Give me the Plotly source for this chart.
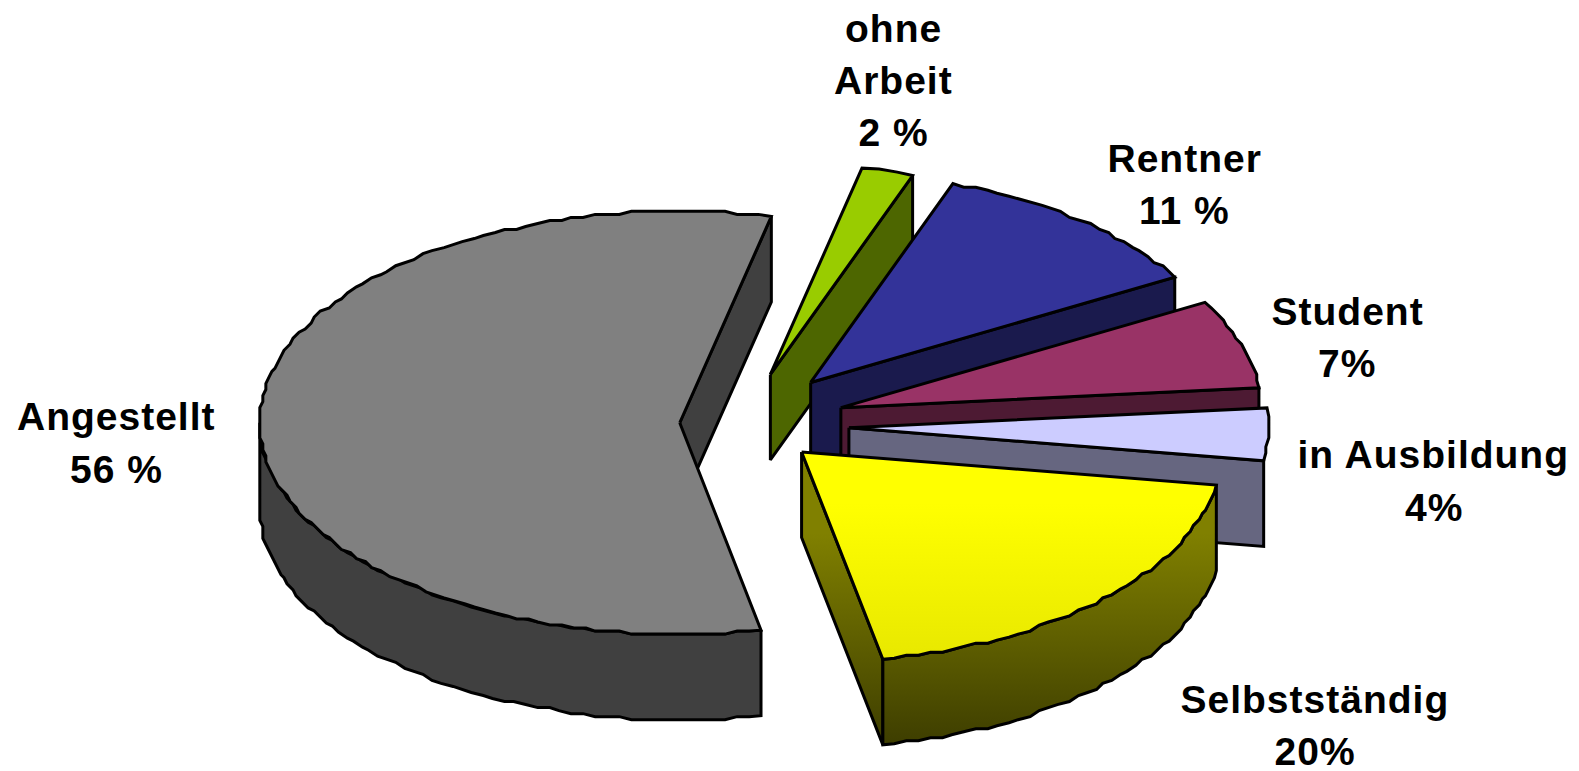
import numpy as np
import plotly.graph_objects as go

# slices in clockwise order, starting at the Selbstständig slice
categories = ["Selbstständig", "Angestellt", "ohne Arbeit", "Rentner", "Student", "in Ausbildung"]
values = [19.4, 56.6, 2, 11.2, 6.8, 4]

label_lines = [
    ["Selbstständig", "20%"],
    ["Angestellt", "56 %"],
    ["ohne", "Arbeit", "2 %"],
    ["Rentner", "11 %"],
    ["Student", "7%"],
    ["in Ausbildung", "4%"],
]
label_anchor = [(1306, 695), (116, 414), (887, 28), (1176, 157), (1338, 309), (1424, 452)]

top_colors = ["#FFFF00", "#808080", "#99CC00", "#333399", "#993366", "#CCCCFF"]
side_colors = ["#808000", "#404040", "#4D6600", "#1A1A4D", "#4D1A33", "#666680"]
rim_colors = ["#808000", "#404040", "#4D6600", "#1A1A4D", "#4D1A33", "#7F7FA0"]

# where the tip of each exploded slice ends up
apex = [(796, 449), (675, 420), (765, 372), (805, 380), (835, 405), (843, 425)]

draw_order = [1, 2, 3, 4, 5, 0]

W, H = 1568, 766
RX, RY = 417, 210
DEPTH = 85
START_ANGLE = 99
LINE = dict(color="black", width=3)


def rim(tip, deg):
    t = np.radians(deg)
    return tip[0] + RX * np.sin(t), tip[1] - RY * np.cos(t)


def arc(tip, a, b):
    # snapped to a coarse grid, the original outline is a stepped one
    angles = np.linspace(a, b, max(2, int((b - a) / 1.6)))
    xs, ys = rim(tip, angles)
    xs, ys = np.round(xs / 3) * 3, np.round(ys / 3) * 3
    xs[0], ys[0] = rim(tip, a)
    xs[-1], ys[-1] = rim(tip, b)
    return list(xs), list(ys)


def add_poly(fig, xs, ys, color, gradient=None):
    trace = go.Scatter(
        x=list(xs) + [xs[0]],
        y=list(ys) + [ys[0]],
        mode="lines",
        fill="toself",
        line=LINE,
        hoverinfo="skip",
        showlegend=False,
    )
    if gradient:
        trace.fillgradient = gradient
    else:
        trace.fillcolor = color
    fig.add_trace(trace)


def vertical(c0, c1, y0, y1):
    return dict(type="vertical", colorscale=[[0, c0], [1, c1]], start=y0, stop=y1)


fig = go.Figure()

edges = START_ANGLE + np.cumsum([0] + values) * 3.6

for i in draw_order:
    tip = apex[i]
    a, b = edges[i], edges[i + 1]

    side_grad = None
    top_grad = None
    if categories[i] == "Selbstständig":
        side_grad = vertical("#808000", "#3C3C00", 530, 745)
        top_grad = vertical("#FFFF00", "#E8E800", 500, 655)

    # cut face on the clockwise end of the slice
    ex, ey = rim(tip, b)
    add_poly(
        fig,
        [tip[0], ex, ex, tip[0]],
        [tip[1], ey, ey + DEPTH, tip[1] + DEPTH],
        side_colors[i],
        side_grad,
    )

    # curved wall, only the front half of the pie shows
    lo, hi = max(a, 90), min(b, 270)
    if hi > lo:
        xs, ys = arc(tip, lo, hi)
        wall_x = xs + xs[::-1]
        wall_y = ys + [y + DEPTH for y in ys[::-1]]
        add_poly(fig, wall_x, wall_y, rim_colors[i], side_grad)

    xs, ys = arc(tip, a, b)
    add_poly(fig, [tip[0]] + xs, [tip[1]] + ys, top_colors[i], top_grad)

for lines, (lx, ly) in zip(label_lines, label_anchor):
    for n, line in enumerate(lines):
        fig.add_annotation(
            x=lx,
            y=ly + n * 52,
            text=line,
            showarrow=False,
            xanchor="center",
            yanchor="middle",
            font=dict(family="Liberation Sans", size=39, color="black", weight="bold"),
        )

fig.update_xaxes(range=[0, W], visible=False, fixedrange=True)
fig.update_yaxes(range=[H, 0], visible=False, fixedrange=True)
fig.update_layout(
    width=1579,
    height=771,
    margin=dict(l=0, r=0, t=0, b=0),
    paper_bgcolor="white",
    plot_bgcolor="white",
)

# plotly has no letter spacing option, the labels are set wide in the original
page_css = """
document.body.style.margin = '0';
var st = document.createElement('style');
st.textContent = '.annotation-text { letter-spacing: 1px; }';
document.head.appendChild(st);
"""
fig.write_html("out.html", post_script=page_css, config=dict(displayModeBar=False))
